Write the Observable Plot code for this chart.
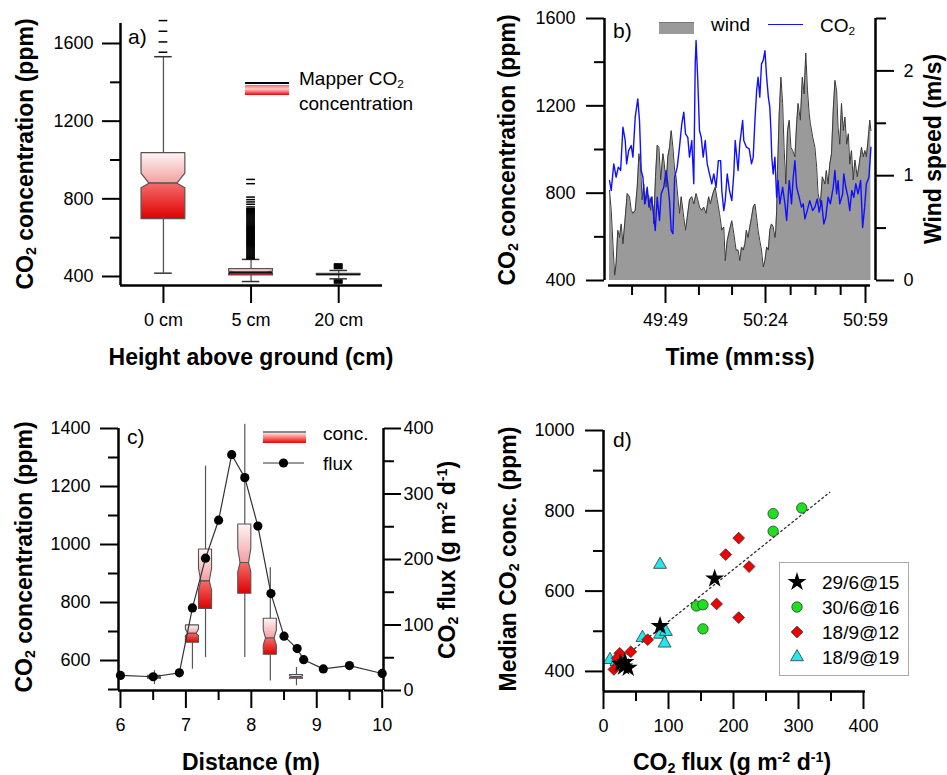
<!DOCTYPE html>
<html><head><meta charset="utf-8">
<script src="https://cdn.jsdelivr.net/npm/d3@7"></script>
<script src="https://cdn.jsdelivr.net/npm/@observablehq/plot@0.6"></script>
<style>
body{margin:0;background:#fff;}
#fig{position:relative;width:947px;height:775px;background:#fff;font-family:"Liberation Sans",Arial,sans-serif;color:#000;overflow:hidden}
.t{position:absolute;white-space:nowrap;line-height:1}
.ttl{font-weight:bold;font-size:23px}
.rot{transform:translate(-50%,-50%) rotate(-90deg)}
.hc{transform:translate(-50%,-50%)}
.lg{font-size:19px;transform:translate(0,-50%)}
.pl{font-size:21px;transform:translate(0,-50%)}
sub{font-size:0.62em;vertical-align:-0.28em;line-height:0}
sup{font-size:0.62em;vertical-align:0.55em;line-height:0}
.sw{position:absolute}
</style></head>
<body>
<svg width="0" height="0" style="position:absolute">
 <defs>
  <linearGradient id="gUp" x1="0" y1="0" x2="0" y2="1"><stop offset="0" stop-color="#fff4f4"/><stop offset="1" stop-color="#f2a0a0"/></linearGradient>
  <linearGradient id="gLow" x1="0" y1="0" x2="0" y2="1"><stop offset="0" stop-color="#f46c6c"/><stop offset="1" stop-color="#e00000"/></linearGradient>
 </defs>
</svg>
<div id="fig"></div>
<script>
// ---------- DATA ----------
// Panel a
const heights = ["0 cm", "5 cm", "20 cm"];
const aQ1  = [695, 405, 407];
const aNLo = [855, 415, 409];
const aMed = [878, 420, 410];
const aNHi = [930, 425, 411];
const aQ3  = [1035, 438, 413];
const aWLo = [417, 374, 388];
const aWHi = [1532, 488, 431];
const a0Out = [1555, 1608, 1663, 1718];
const a5Out = [491, 496, 501, 506, 511, 516, 521, 526, 531, 536, 541, 546, 551, 556, 561, 566, 571, 576, 581, 586, 591, 596, 601, 606, 611, 616, 621, 626, 631, 636, 641, 646, 651, 656, 661, 666, 671, 676, 681, 686, 691, 696, 701, 706, 711, 716, 721, 726, 731, 736, 741, 745, 749, 758, 772, 784, 796, 809, 878, 900];
const a20Out = [441, 445, 449, 453, 457, 461, 465, 366, 370, 374, 378, 382];

// Panel b (time in s after 49:00)
const co2T = [29.4,30.0,30.9,31.7,32.5,33.3,34.1,34.9,35.4,36.1,37.0,37.6,38.4,39.3,39.9,40.5,41.1,41.7,42.6,43.2,44.0,44.6,45.4,46.1,46.9,47.5,48.4,49.2,49.8,50.4,51.0,51.6,52.2,53.1,53.9,54.7,55.4,56.0,56.8,57.4,58.2,58.9,59.4,59.7,60.3,60.9,61.5,62.2,62.9,63.6,64.4,65.2,65.9,66.7,67.5,68.3,68.7,69.4,69.9,70.6,71.4,72.2,72.9,73.4,
74.4,75.0,76.0,76.4,77.3,78.3,79.1,79.7,80.3,80.9,81.4,82.0,82.6,83.2,83.8,84.4,85.0,85.5,85.9,86.2,86.7,87.3,87.9,88.4,89.0,90.0,90.8,91.4,92.3,93.1,93.7,94.3,94.9,95.8,96.6,97.2,97.8,98.6,99.5,100.5,101.3,102.1,102.8,103.6,104.4,105.1,105.9,106.7,107.7,108.3,108.9,109.4,110.0,111.0,111.4,112.1,112.9,113.5,114.2,114.9,115.6,116.4,117.3,118.0,118.7,119.3,120.2,120.9];
const co2V = [858,812,934,873,919,904,1102,1041,934,995,1018,965,1148,1232,1133,904,873,751,827,736,781,736,629,781,675,797,827,904,843,766,629,614,873,919,1011,1117,1171,1072,1056,965,1041,843,1392,1499,1316,1087,1056,965,1041,934,888,843,888,827,949,949,812,720,766,888,812,766,888,1041,
904,1026,1133,1041,1011,1003,934,965,1133,1270,1331,1240,1392,1408,1453,1331,1240,1194,1087,965,888,965,781,858,751,827,751,675,858,751,873,949,827,781,736,751,682,720,766,720,736,774,713,766,659,690,781,751,827,904,797,858,751,797,888,827,781,720,812,781,843,797,858,643,736,843,873,1011];
const windT = [29.4,30.0,30.6,31.2,31.7,32.3,32.9,33.5,34.1,34.9,35.6,36.4,37.0,37.6,38.4,39.1,39.7,40.3,40.8,41.4,41.9,42.6,43.2,43.8,44.3,44.9,45.5,46.1,46.7,47.3,48.1,48.6,49.2,49.8,50.4,51.0,51.6,52.2,52.7,53.3,53.9,54.5,55.4,56.0,56.6,57.4,58.2,58.9,59.7,60.3,60.9,61.7,62.4,63.2,64.1,64.7,65.6,66.4,67.1,67.9,68.7,69.4,69.9,70.6,71.4,72.2,72.9,73.7,
74.4,75.0,75.6,76.2,76.8,77.3,77.9,78.5,79.1,79.7,80.3,80.9,81.4,82.0,82.6,83.2,83.8,84.4,85.0,85.5,86.1,86.7,87.3,87.6,87.9,88.2,88.8,89.4,90.0,90.5,91.1,91.7,92.3,92.9,93.5,94.3,94.9,95.4,96.2,96.9,97.5,98.1,98.7,99.3,99.7,100.5,101.3,101.9,102.4,103.2,103.9,104.8,105.3,105.9,106.5,107.1,107.7,108.3,108.9,109.4,110.0,110.6,111.2,111.8,112.4,113.0,113.5,114.1,114.7,115.3,116.1,116.8,117.6,118.2,118.8,119.3,119.9,120.5,120.9];
const windV = [0.86,0.67,0.35,0.05,0.16,0.48,0.41,0.54,0.35,0.60,0.83,0.80,0.67,0.64,0.67,0.89,1.21,1.08,0.77,0.92,0.73,0.83,0.80,0.67,0.80,0.54,0.99,1.29,1.27,0.96,1.21,1.11,0.89,1.18,1.27,1.43,1.27,1.05,0.99,0.80,0.64,0.80,0.60,0.48,0.60,0.77,0.80,0.73,0.83,0.77,0.70,0.67,0.70,0.64,0.80,0.73,0.83,0.89,0.77,0.64,0.48,0.51,0.19,0.38,0.48,0.57,0.45,0.29,
0.29,0.19,0.32,0.29,0.35,0.48,0.41,0.51,0.60,0.70,0.73,0.60,0.48,0.38,0.29,0.13,0.19,0.32,0.29,0.48,0.54,0.51,0.41,0.48,0.67,1.05,1.59,1.94,1.69,1.27,0.92,1.43,1.53,1.27,1.24,1.18,1.50,1.69,1.53,1.94,1.78,2.17,1.81,1.59,1.50,1.37,1.27,1.08,0.83,0.73,0.99,0.92,1.05,0.92,1.11,1.21,1.62,1.91,1.81,1.46,1.30,1.69,1.43,1.56,1.30,1.40,1.11,1.24,0.96,1.15,0.99,1.11,1.27,1.18,1.24,1.18,1.34,1.53,1.43];
const bMajorT = [49, 84, 119];
const bMinorT = [37.3, 60.7, 72.3, 92.8, 101.5, 110.3];

// Panel c
const cDist = [6.52, 7.1, 7.3, 7.9, 8.29, 8.69];
const cQ1  = [537, 661, 778, 830, 620, 537];
const cNLo = [540, 683, 841, 904, 652, 540];
const cMed = [542, 692, 873, 936, 676, 543];
const cNHi = [544, 707, 916, 985, 703, 546];
const cQ3  = [547, 721, 983, 1069, 744, 550];
const cWLo = [517, 570, 610, 610, 529, 513];
const cWHi = [565, 721, 1270, 1415, 920, 576];
const fDist = [6.0, 6.5, 6.9, 7.1, 7.3, 7.5, 7.7, 7.9, 8.1, 8.3, 8.5, 8.7, 8.8, 9.1, 9.5, 10.0];
const fFlux = [23, 21, 27, 126, 202, 260, 360, 325, 251, 148, 83, 64, 47, 33, 38, 26];

// Panel d
const dSeries = ["29/6@15", "30/6@16", "18/9@12", "18/9@19"];
const d1Flux = [171, 87, 31, 38, 26, 33];
const d1Conc = [631, 513, 412, 409, 419, 423];
const d2Flux = [305, 261, 261, 143, 153, 153, 23];
const d2Conc = [807, 793, 749, 563, 566, 506, 427];
const d3Flux = [208, 188, 224, 174, 208, 68, 42, 25, 16, 21];
const d3Conc = [732, 691, 661, 568, 534, 479, 449, 445, 405, 433];
const d4Flux = [87, 60, 87, 96, 94, 10, 20];
const d4Conc = [666, 484, 492, 499, 470, 429, 424];
const fitFlux = [25, 348];
const fitConc = [427, 846];

// ---------- DRAWING ----------
const W = 947, H = 775;
const fig = document.getElementById("fig");
const STYLE = "background:transparent;font-family:'Liberation Sans',Arial,sans-serif;font-size:18px;color:#000;position:absolute;left:0;top:0;";
const M = (l, r, t, b) => ({width: W, height: H, marginLeft: l, marginRight: W - r, marginTop: t, marginBottom: H - b, style: STYLE});
const yAx = (ticks, size, anchor, labels, pad) => Plot.axisY({ticks, anchor, tickSize: size, tickPadding: pad ?? 10, strokeWidth: 2, fontSize: 18, label: null, tickFormat: labels ? (d => String(d)) : (() => "")});
const xAx = (ticks, size, fmt, pad) => Plot.axisX({ticks, anchor: "bottom", tickSize: size, tickPadding: pad ?? 10, strokeWidth: 2, fontSize: 18, label: null, tickFormat: fmt ? fmt : (() => "")});
const zip = (xs, ys) => xs.map((x, i) => ({x, y: ys[i]}));

function boxShapes(xs, q1, nLo, med, nHi, q3, hw, iw) {
  const up = [], low = [];
  xs.forEach((x, k) => {
    up.push({k, y: q3[k], x1: x - hw, x2: x + hw}, {k, y: nHi[k], x1: x - hw, x2: x + hw}, {k, y: med[k], x1: x - iw, x2: x + iw});
    low.push({k, y: med[k], x1: x - iw, x2: x + iw}, {k, y: nLo[k], x1: x - hw, x2: x + hw}, {k, y: q1[k], x1: x - hw, x2: x + hw});
  });
  return {up, low};
}
function add(p) { fig.appendChild(p); }

// Panel a
const aX = heights.map((_, i) => i);
const aBox = boxShapes(aX, aQ1, aNLo, aMed, aNHi, aQ3, 0.25, 0.16);
const aOut = [...a0Out.map(v => ({x: 0, v})), ...a5Out.map(v => ({x: 1, v})), ...a20Out.map(v => ({x: 2, v}))];
add(Plot.plot({...M(120, 382, 23, 285), x: {domain: [-0.49, 2.5]}, y: {domain: [353.6, 1703]}, marks: [
  Plot.ruleX(aX, {x: d => d, y1: d => aWLo[d], y2: d => aWHi[d], stroke: "#555", strokeWidth: 1.3}),
  Plot.ruleY(aX, {y: d => aWHi[d], x1: d => d - 0.1, x2: d => d + 0.1, stroke: "#333", strokeWidth: 1.5}),
  Plot.ruleY(aX, {y: d => aWLo[d], x1: d => d - 0.1, x2: d => d + 0.1, stroke: "#333", strokeWidth: 1.5}),
  Plot.areaX(aBox.up, {y: "y", x1: "x1", x2: "x2", z: "k", fill: "url(#gUp)", stroke: "#555", strokeWidth: 1.2}),
  Plot.areaX(aBox.low, {y: "y", x1: "x1", x2: "x2", z: "k", fill: "url(#gLow)", stroke: "#555", strokeWidth: 1.2}),
  Plot.ruleY(aX.slice(1), {y: d => aMed[d], x1: d => d - 0.25, x2: d => d + 0.25, stroke: "#111", strokeWidth: 1.6}),
  Plot.ruleY(aOut, {y: "v", x1: d => d.x - 0.05, x2: d => d.x + 0.05, stroke: "#000", strokeWidth: 1.5}),
  Plot.ruleX([-0.49], {strokeWidth: 2.5}),
  Plot.ruleY([353.6], {strokeWidth: 2.5}),
  xAx(aX, 18, i => heights[i], 10),
  yAx([400, 800, 1200, 1600], 18, "left", true, 9),
  yAx([600, 1000, 1400], 10, "left", false)
]}));

// Panel b: wind (below), CO2 (above)
const bX = {domain: [27.65, 122.5]};
const windData = zip(windT, windV);
const co2Data = zip(co2T, co2V);
const mmss = t => `${49 + Math.floor(t / 60)}:${String(t % 60).padStart(2, "0")}`;
add(Plot.plot({...M(604, 875, 18, 285), x: {...bX, axis: null}, y: {domain: [-0.048, 2.5]}, marks: [
  Plot.areaY(windData, {x: "x", y: "y", fill: "#9a9a9a"}),
  Plot.lineY(windData, {x: "x", y: "y", stroke: "#3a3a3a", strokeWidth: 1}),
  Plot.ruleX([122.5], {y1: 0, y2: 2.5, strokeWidth: 2.5}),
  yAx([0, 1, 2], 18, "right", true, 10),
  yAx([0.5, 1.5, 2.5], 10, "right", false)
]}));
add(Plot.plot({...M(604, 875, 18, 285), x: bX, y: {domain: [377.1, 1600]}, marks: [
  Plot.lineY(co2Data, {x: "x", y: "y", stroke: "#1010ff", strokeWidth: 1.4}),
  Plot.ruleX([27.65], {y1: 400, y2: 1600, strokeWidth: 2.5}),
  Plot.ruleY([377.1], {x1: 29.05, x2: 120.75, strokeWidth: 2.5}),
  xAx(bMajorT, 18, mmss, 10),
  xAx(bMinorT, 10, null),
  yAx([400, 800, 1200, 1600], 18, "left", true, 11),
  yAx([600, 1000, 1400], 10, "left", false)
]}));

// Panel c: boxes (below), flux (above)
const cX = {domain: [5.97, 10.02]};
const cBox = boxShapes(cDist, cQ1, cNLo, cMed, cNHi, cQ3, 0.1, 0.065);
add(Plot.plot({...M(118, 383, 428, 690), x: cX, y: {domain: [496.6, 1400]}, marks: [
  Plot.ruleX(cDist, {x: d => d, y1: (d, i) => cWLo[i], y2: (d, i) => cWHi[i], stroke: "#555", strokeWidth: 1.2}),
  Plot.areaX(cBox.up, {y: "y", x1: "x1", x2: "x2", z: "k", fill: "url(#gUp)", stroke: "#555", strokeWidth: 1.1}),
  Plot.areaX(cBox.low, {y: "y", x1: "x1", x2: "x2", z: "k", fill: "url(#gLow)", stroke: "#555", strokeWidth: 1.1}),
  Plot.ruleX([5.97], {strokeWidth: 2.5}),
  Plot.ruleY([496.6], {strokeWidth: 2.5}),
  xAx([6, 7, 8, 9, 10], 18, d => String(d), 10),
  xAx([6.5, 7.5, 8.5, 9.5], 10, null),
  yAx([600, 800, 1000, 1200, 1400], 18, "left", true, 10),
  yAx([500, 700, 900, 1100, 1300], 10, "left", false)
]}));
const fluxData = zip(fDist, fFlux);
add(Plot.plot({...M(118, 383, 428, 690), x: {...cX, axis: null}, y: {domain: [0, 400]}, marks: [
  Plot.lineY(fluxData, {x: "x", y: "y", stroke: "#333", strokeWidth: 1.2}),
  Plot.dot(fluxData, {x: "x", y: "y", r: 4.6, fill: "#000"}),
  Plot.ruleX([10.02], {strokeWidth: 2.5}),
  yAx([0, 100, 200, 300, 400], 17, "right", true, 3),
  yAx([50, 150, 250, 350], 10, "right", false)
]}));

// Panel d
const dStyle = [
  {symbol: "star", fill: "#000", stroke: "none", r: 6},
  {symbol: "circle", fill: "#1ee01e", stroke: "#333", r: 5.2},
  {symbol: "diamond2", fill: "#ee0000", stroke: "#333", r: 5.3},
  {symbol: "triangle", fill: "#22e6f0", stroke: "#333", r: 4.8}
];
const dData = [zip(d1Flux, d1Conc), zip(d2Flux, d2Conc), zip(d3Flux, d3Conc), zip(d4Flux, d4Conc)];
const drawOrder = [3, 1, 2, 0];
add(Plot.plot({...M(603, 863, 430, 691), x: {domain: [0, 400]}, y: {domain: [350, 1000]}, marks: [
  Plot.line(zip(fitFlux, fitConc), {x: "x", y: "y", stroke: "#333", strokeWidth: 1.4, strokeDasharray: "1.6,3.2"}),
  ...drawOrder.map(s => Plot.dot(dData[s], {x: "x", y: "y", ...dStyle[s], strokeWidth: 0.8})),
  Plot.ruleX([0], {strokeWidth: 2.5}),
  Plot.ruleY([350], {x1: 0, x2: 403, strokeWidth: 2.5}),
  xAx([0, 100, 200, 300, 400], 18, d => String(d), 10),
  xAx([50, 150, 250, 350], 10, null),
  yAx([400, 600, 800, 1000], 18, "left", true, 11),
  yAx([500, 700, 900], 10, "left", false)
]}));

// ---------- TEXT & LEGENDS ----------
function txt(html, x, y, cls) {
  const d = document.createElement("div");
  d.className = "t " + cls; d.style.left = x + "px"; d.style.top = y + "px"; d.innerHTML = html;
  fig.appendChild(d);
}
function box(x, y, w, h, css) {
  const d = document.createElement("div");
  d.className = "sw"; d.style.cssText = `left:${x}px;top:${y}px;width:${w}px;height:${h}px;${css}`;
  fig.appendChild(d);
}
const CO2 = "CO<sub>2</sub>";
const FLUXU = "(g m<sup>-2</sup> d<sup>-1</sup>)";
// titles
txt(`${CO2} concentration (ppm)`, 25, 154, "ttl rot");
txt("Height above ground (cm)", 251, 357, "ttl hc");
txt(`${CO2} concentration (ppm)`, 507, 150, "ttl rot");
txt("Wind speed (m/s)", 933, 149, "ttl rot");
txt("Time (mm:ss)", 740, 357, "ttl hc");
txt(`${CO2} concentration (ppm)`, 24, 557, "ttl rot");
txt(`${CO2} flux ${FLUXU}`, 447, 560, "ttl rot");
txt("Distance (m)", 251, 762, "ttl hc");
txt(`Median ${CO2} conc. (ppm)`, 508, 559, "ttl rot");
txt(`${CO2} flux ${FLUXU}`, 732, 762, "ttl hc");
// panel labels
txt("a)", 128, 36, "pl");
txt("b)", 613, 30, "pl");
txt("c)", 127, 436, "pl");
txt("d)", 613, 439, "pl");
// legend a
box(245, 82, 44, 1.6, "background:#000");
box(245, 85, 44, 9.5, "background:linear-gradient(#f66,#fcc 40%,#e00)");
txt(`Mapper ${CO2}`, 299, 78, "lg");
txt("concentration", 299, 103, "lg");
// legend b
box(659, 22, 35, 11, "background:#9a9a9a;border-top:1px solid #777");
txt("wind", 711, 24, "lg");
box(768, 23.5, 35, 1.4, "background:#1010ff");
txt(CO2, 820, 25, "lg");
// legend c
box(263, 431, 43, 1.6, "background:#888");
box(263, 433, 43, 10, "background:linear-gradient(#fdd,#e00)");
txt("conc.", 323, 433, "lg");
{
  const s = d3.create("svg").attr("width", 50).attr("height", 14).style("position", "absolute").style("left", "261px").style("top", "456px");
  s.append("line").attr("x1", 2).attr("x2", 43).attr("y1", 7).attr("y2", 7).attr("stroke", "#333").attr("stroke-width", 1.2);
  s.append("circle").attr("cx", 22.5).attr("cy", 7).attr("r", 4.6).attr("fill", "#000");
  fig.appendChild(s.node());
}
txt("flux", 323, 463, "lg");
// legend d
box(779, 562, 128, 112, "border:1.5px solid #aaa;background:#fff");
const symMap = {star: d3.symbolStar, circle: d3.symbolCircle, diamond2: d3.symbolDiamond2, triangle: d3.symbolTriangle};
dSeries.forEach((name, i) => {
  const st = dStyle[i], cy = 582 + i * 25;
  const s = d3.create("svg").attr("width", 24).attr("height", 24).style("position", "absolute").style("left", "785px").style("top", (cy - 12) + "px");
  s.append("path").attr("d", d3.symbol(symMap[st.symbol], Math.PI * st.r * st.r)()).attr("transform", "translate(12,12)")
    .attr("fill", st.fill).attr("stroke", st.stroke).attr("stroke-width", 0.8);
  fig.appendChild(s.node());
  txt(name, 822, cy, "lg");
});
</script>
</body></html>
